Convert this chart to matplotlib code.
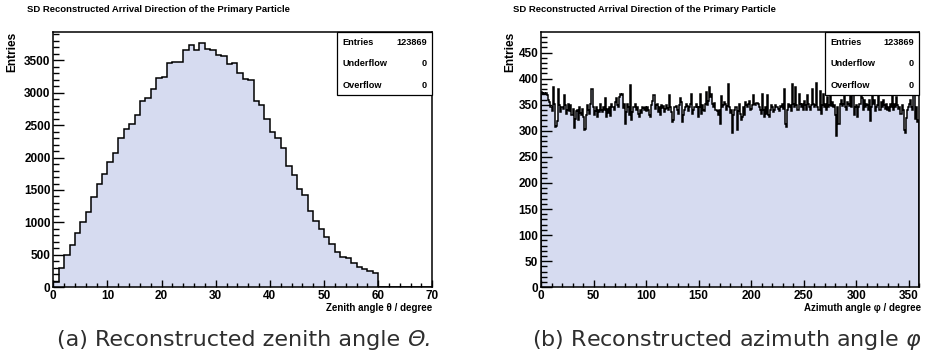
import numpy as np
import matplotlib
matplotlib.use("Agg")
import matplotlib.pyplot as plt
from matplotlib.patches import Rectangle

plt.rcParams["mathtext.fontset"] = "custom"
plt.rcParams["mathtext.rm"] = "DejaVu Sans"
plt.rcParams["mathtext.it"] = "DejaVu Sans:italic"

# ---------------------------------------------------------------- data
title = "SD Reconstructed Arrival Direction of the Primary Particle"

zenith_edges = np.arange(0, 61)  # 1 degree bins, 0..60
zenith_counts = [
    86, 292, 497, 651, 831, 1000, 1164, 1395, 1591, 1740,
    1925, 2063, 2294, 2438, 2515, 2653, 2874, 2925, 3064, 3227,
    3243, 3464, 3474, 3480, 3654, 3731, 3654, 3769, 3680, 3665,
    3577, 3567, 3449, 3464, 3310, 3207, 3192, 2874, 2807, 2587,
    2396, 2294, 2140, 1868, 1729, 1509, 1421, 1180, 1026, 893,
    770, 667, 549, 472, 446, 370, 318, 277, 256, 215,
]

azimuth_edges = np.arange(0, 361)  # 1 degree bins, 0..360
azimuth_counts = [
    374, 372, 371, 373, 370, 372, 368, 360, 355, 345,
    338, 384, 352, 307, 310, 318, 381, 349, 337, 346,
    345, 342, 368, 350, 333, 340, 351, 338, 349, 330,
    341, 305, 322, 338, 340, 320, 345, 334, 331, 342,
    327, 301, 303, 330, 349, 340, 333, 352, 381, 345,
    330, 338, 345, 327, 340, 336, 351, 340, 336, 345,
    340, 362, 326, 341, 335, 345, 328, 352, 345, 340,
    355, 362, 350, 345, 365, 371, 368, 371, 343, 352,
    314, 336, 352, 346, 330, 387, 320, 336, 345, 352,
    340, 345, 333, 327, 340, 335, 346, 344, 340, 346,
    338, 345, 340, 330, 327, 350, 358, 368, 342, 349,
    352, 337, 345, 330, 350, 343, 348, 336, 341, 350,
    343, 339, 368, 345, 336, 317, 321, 345, 348, 340,
    333, 350, 362, 355, 317, 330, 340, 345, 352, 347,
    338, 345, 351, 371, 333, 340, 346, 352, 345, 327,
    345, 371, 333, 350, 340, 338, 352, 374, 350, 357,
    384, 365, 370, 352, 345, 353, 340, 338, 330, 340,
    314, 366, 345, 350, 355, 352, 340, 348, 389, 345,
    335, 340, 295, 330, 340, 346, 301, 338, 352, 333,
    320, 327, 345, 330, 355, 350, 345, 352, 358, 340,
    342, 350, 369, 352, 350, 354, 352, 345, 340, 333,
    371, 340, 327, 345, 333, 368, 330, 327, 340, 350,
    345, 336, 340, 350, 345, 341, 338, 348, 345, 352,
    342, 381, 314, 308, 340, 352, 345, 350, 338, 390,
    352, 345, 384, 350, 340, 371, 352, 345, 352, 340,
    358, 350, 340, 368, 352, 345, 340, 350, 381, 352,
    345, 350, 392, 345, 340, 377, 333, 350, 370, 346,
    352, 340, 365, 345, 350, 372, 348, 355, 345, 350,
    330, 291, 345, 314, 352, 360, 348, 351, 370, 345,
    340, 356, 352, 348, 370, 345, 372, 368, 330, 345,
    350, 327, 345, 352, 370, 362, 340, 360, 345, 352,
    350, 340, 360, 318, 345, 372, 352, 360, 338, 345,
    350, 366, 340, 355, 345, 360, 350, 342, 352, 340,
    345, 338, 352, 346, 368, 340, 352, 345, 365, 350,
    342, 345, 333, 350, 340, 301, 295, 325, 340, 345,
    351, 360, 346, 340, 368, 372, 323, 345, 317, 320,
]

entries = 123869
underflow = 0
overflow = 0

zenith_xticks = np.arange(0, 71, 10)
zenith_yticks = np.arange(0, 3501, 500)
azimuth_xticks = np.arange(0, 351, 50)
azimuth_yticks = np.arange(0, 451, 50)

# ---------------------------------------------------------------- style
FILL = "#d6dbf0"
W, H = 925, 358
ROOT_FONT = "Liberation Sans"

fig = plt.figure(figsize=(W / 100, H / 100), dpi=100)


def px_axes(x0, x1, y0, y1):
    return fig.add_axes([x0 / W, 1 - y1 / H, (x1 - x0) / W, (y1 - y0) / H])


def style_axes(ax, xlim, ylim, xticks, yticks, xminor, yminor):
    ax.set_xlim(*xlim)
    ax.set_ylim(*ylim)
    ax.set_xticks(xticks)
    ax.set_yticks(yticks)
    ax.set_xticks(np.arange(xlim[0], xlim[1] + 1e-9, xminor), minor=True)
    ax.set_yticks(np.arange(ylim[0], ylim[1], yminor), minor=True)
    for s in ax.spines.values():
        s.set_linewidth(1.1)
    ax.tick_params(which="both", direction="in", top=False, right=False,
                   width=1.0, labelsize=8.5, colors="black")
    ax.tick_params(axis="x", which="major", length=5.4, pad=2)
    ax.tick_params(axis="x", which="minor", length=2.9)
    ax.tick_params(axis="y", which="major", length=8.0, pad=2)
    ax.tick_params(axis="y", which="minor", length=4.0)
    for lab in ax.get_xticklabels() + ax.get_yticklabels():
        lab.set_fontfamily(ROOT_FONT)
        lab.set_fontweight("bold")


def stats_box(ax, x_left):
    ax.add_patch(Rectangle((x_left, 0.7523), 1 - x_left, 0.2477,
                           transform=ax.transAxes, facecolor="white",
                           edgecolor="black", linewidth=0.9, zorder=5,
                           clip_on=False))
    rows = [("Entries", entries), ("Underflow", underflow),
            ("Overflow", overflow)]
    for (name, val), yy in zip(rows, [0.957, 0.876, 0.789]):
        ax.text(x_left + 0.014, yy, name, transform=ax.transAxes,
                fontsize=6.6, fontweight="bold", family=ROOT_FONT,
                ha="left", va="center", zorder=6)
        ax.text(0.985, yy, f"{val:d}", transform=ax.transAxes,
                fontsize=6.6, fontweight="bold", family=ROOT_FONT,
                ha="right", va="center", zorder=6)


def histogram(ax, counts, edges, lw):
    ax.stairs(counts, edges, fill=True, color=FILL, linewidth=0, zorder=1)
    ax.stairs(counts, edges, baseline=0, color="black", linewidth=lw,
              zorder=2)


def panel_texts(x_title, x_ylabel, x_xlabel, xlabel):
    fig.text(x_title / W, 1 - 9.5 / H, title, fontsize=6.8,
             fontweight="bold", family=ROOT_FONT, ha="left", va="center")
    fig.text(x_ylabel / W, 1 - 31.7 / H, "Entries", rotation=90,
             fontsize=8.6, fontweight="bold", family=ROOT_FONT,
             ha="center", va="top")
    fig.text(x_xlabel / W, 1 - 308 / H, xlabel, fontsize=7.0,
             fontweight="bold", family=ROOT_FONT, ha="right", va="center")


CAPTION = dict(fontsize=16, color="#2e2e2e", family="DejaVu Sans",
               va="baseline")
CAPTION_BASE = 1 - 346 / H

# ---------------------------------------------------------------- zenith
ax1 = px_axes(53.3, 432.3, 31.7, 287.3)
histogram(ax1, zenith_counts, zenith_edges, 1.1)
style_axes(ax1, (0, 70), (0, 3940), zenith_xticks, zenith_yticks, 2, 100)
ax1.plot([60, 70], [0, 0], color="black", lw=1.1, zorder=2)
stats_box(ax1, 0.7485)
panel_texts(27, 12, 432.3, "Zenith angle \u03b8 / degree")

# caption (a): upright text followed by an oblique capital theta
cap_a = fig.text(57 / W, CAPTION_BASE, "(a) Reconstructed zenith angle ",
                 ha="left", **CAPTION)
renderer = fig.canvas.get_renderer()
x_end = cap_a.get_window_extent(renderer).x1 / fig.bbox.width
fig.text(x_end, CAPTION_BASE, "\u0398.", ha="left", style="italic",
         **CAPTION)

# ---------------------------------------------------------------- azimuth
ax2 = px_axes(541, 919.4, 31.7, 287.3)
histogram(ax2, azimuth_counts, azimuth_edges, 1.1)
style_axes(ax2, (0, 360), (0, 490), azimuth_xticks, azimuth_yticks, 10, 10)
stats_box(ax2, 0.7505)
panel_texts(513, 510, 921, "Azimuth angle \u03c6 / degree")
fig.text(921 / W, CAPTION_BASE,
         r"(b) Reconstructed azimuth angle $\varphi$",
         ha="right", **CAPTION)

fig.savefig("out.png", dpi=100)
